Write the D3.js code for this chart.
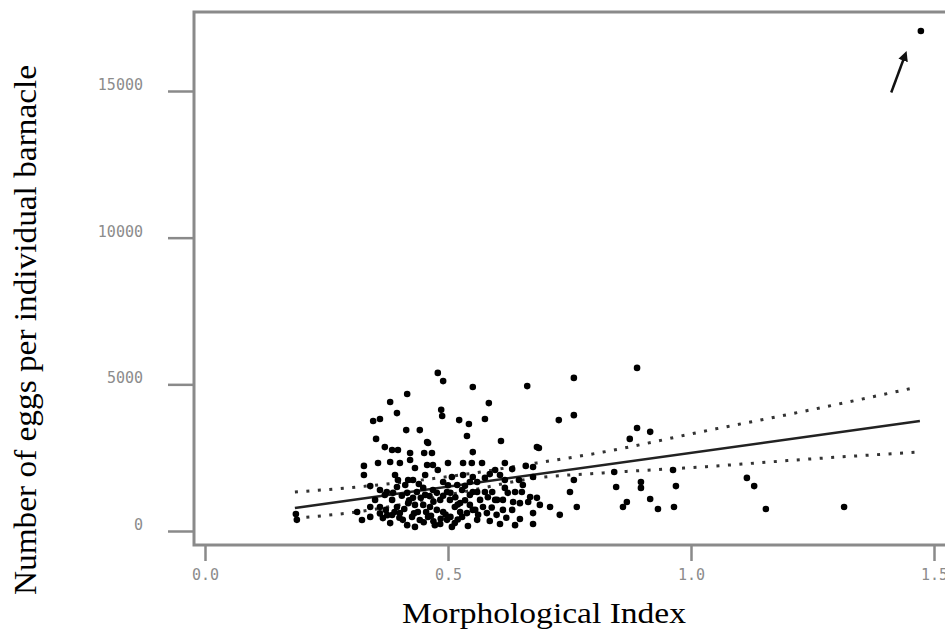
<!DOCTYPE html>
<html>
<head>
<meta charset="utf-8">
<script src="https://cdn.jsdelivr.net/npm/d3@7"></script>
<style>
  body { margin: 0; background: #fff; }
  svg { display: block; }
</style>
</head>
<body>
<div id="chart"></div>
<script>
const width = 945;
const height = 640;

// tick values
const xTicks = [0.0, 0.5, 1.0, 1.5];
const yTicks = [0, 5000, 10000, 15000];

// [morphological index, eggs per barnacle]
const eggPoints = [
  [1.473,17045],[0.889,5560],[0.479,5390],[0.490,5110],[0.759,5220],[0.551,4910],[0.663,4940],[0.416,4670],[0.381,4400],[0.584,4360],
  [0.395,4020],[0.486,4130],[0.488,3920],[0.759,3950],[0.346,3750],[0.360,3820],[0.523,3780],[0.543,3650],[0.576,3820],[0.728,3780],
  [0.414,3440],[0.442,3440],[0.539,3240],[0.352,3140],[0.457,3030],[0.609,3070],[0.687,2830],[0.889,3510],[0.916,3380],[0.874,3140],
  [0.370,2860],[0.385,2760],[0.397,2760],[0.422,2660],[0.422,2420],[0.451,2660],[0.467,2660],[0.551,2690],[0.459,3000],[0.683,2860],
  [0.327,2220],[0.327,1910],[0.340,1530],[0.381,2350],[0.401,2320],[0.500,2320],[0.531,2320],[0.549,2320],[0.570,2320],[0.617,2320],
  [0.660,2220],[0.675,2180],[0.457,2250],[0.469,2250],[0.391,1910],[0.418,1740],[0.428,1740],[0.453,1910],[0.508,1840],[0.531,1910],
  [0.551,1840],[0.360,1400],[0.374,1330],[0.387,1300],[0.385,1060],[0.416,1300],[0.428,1130],[0.449,1470],[0.453,1230],[0.469,1400],
  [0.477,1300],[0.498,1330],[0.529,1400],[0.551,1330],[0.313,650],[0.340,820],[0.340,480],[0.360,820],[0.366,440],[0.395,820],
  [0.401,610],[0.407,380],[0.418,950],[0.426,480],[0.438,650],[0.449,890],[0.459,480],[0.477,720],[0.490,650],[0.498,380],
  [0.514,820],[0.525,650],[0.529,480],[0.539,610],[0.551,720],[0.560,380],[0.416,200],[0.473,200],[0.187,580],[0.189,380],
  [0.597,2080],[0.586,1940],[0.607,1910],[0.576,1810],[0.617,1740],[0.632,2110],[0.675,1840],[0.646,1740],[0.654,1570],[0.545,1670],
  [0.560,1670],[0.560,1330],[0.576,1330],[0.591,1330],[0.597,1060],[0.617,1470],[0.623,1300],[0.638,1330],[0.652,1330],[0.669,1160],
  [0.683,1130],[0.689,890],[0.545,1230],[0.545,890],[0.566,1060],[0.572,820],[0.601,1060],[0.613,1060],[0.634,990],[0.648,950],
  [0.665,990],[0.556,720],[0.562,550],[0.580,610],[0.613,720],[0.632,720],[0.675,610],[0.675,240],[0.751,1330],[0.759,1740],
  [0.765,820],[0.710,820],[0.730,550],[0.842,2010],[0.846,1500],[0.860,820],[0.868,990],[0.897,1670],[0.897,1470],[0.916,1090],
  [0.932,750],[0.963,2080],[0.969,1530],[0.965,820],[1.115,1810],[1.130,1530],[1.154,750],[1.315,820],
  [0.432,140],[0.484,240],[0.514,270],[0.586,340],[0.607,240],[0.638,200],[0.648,410],[0.381,270],[0.508,140],[0.541,170],
  [0.442,375],[0.385,545],[0.463,820],[0.504,1060],[0.525,955],[0.484,1060],[0.432,890],[0.412,1570],[0.397,1740],[0.490,1670],
  [0.519,1570],[0.479,2080],[0.432,2150],[0.356,2320],[0.350,1060],[0.372,720],[0.323,375],
  [0.395,1500],[0.405,1200],[0.420,1050],[0.436,1330],[0.444,1130],[0.462,1190],[0.470,1000],[0.490,1200],[0.505,1300],[0.515,1150],
  [0.520,900],[0.535,1050],[0.455,650],[0.465,520],[0.485,420],[0.495,560],[0.505,480],[0.520,390],[0.430,600],[0.410,750],
  [0.390,650],[0.375,540],[0.370,1230],[0.440,1600],[0.500,1560],[0.535,1540],[0.582,1150],[0.590,800],[0.600,550],[0.620,450],
  [0.450,300],[0.470,330],[0.400,450],[0.360,600]
];

// regression line and its confidence band
const fitLine = [[0.185, 784], [1.471, 3750]];
const upperCI = [[0.185,1330],[0.313,1500],[0.525,1910],[0.683,2320],[0.819,2690],[1.019,3375],[1.245,4125],[1.467,4910]];
const lowerCI = [[0.185,440],[0.313,650],[0.525,1310],[0.683,1810],[0.819,1980],[1.019,2180],[1.245,2455],[1.467,2690]];

// arrow pointing at the outlier
const arrowLine = [[1.412, 14950], [1.440, 16200]];

const svg = d3.select("#chart")
  .append("svg")
  .attr("width", width)
  .attr("height", height);

const x = d3.scaleLinear().domain([0, 1.5]).range([205, 934]);
const y = d3.scaleLinear().domain([0, 15000]).range([531, 91]);

const frameLeft = 194, frameTop = 12, frameBottom = 545;

// frame (right side runs off the picture)
svg.append("rect")
  .attr("x", frameLeft)
  .attr("y", frameTop)
  .attr("width", 800)
  .attr("height", frameBottom - frameTop)
  .attr("fill", "none")
  .attr("stroke", "#8a8a8a")
  .attr("stroke-width", 3);

// y axis
const yAxis = svg.append("g")
  .attr("transform", "translate(" + frameLeft + ",0)")
  .call(d3.axisLeft(y).tickValues(yTicks).tickSize(26).tickPadding(25).tickFormat(d3.format("d")));

// x axis
const xAxis = svg.append("g")
  .attr("transform", "translate(0," + frameBottom + ")")
  .call(d3.axisBottom(x).tickValues(xTicks).tickSize(16).tickPadding(8).tickFormat(d3.format(".1f")));

[yAxis, xAxis].forEach(function(g) {
  g.select(".domain").remove();
  g.selectAll(".tick line").attr("stroke", "#8a8a8a").attr("stroke-width", 2.5);
  g.selectAll(".tick text")
    .attr("fill", "#8c8c8c")
    .style("font-family", "'DejaVu Sans Mono', monospace")
    .style("font-size", "15px");
});
yAxis.selectAll(".tick text").attr("dy", "-0.1em");

// confidence band (dotted)
const line = d3.line()
  .x(function(d) { return x(d[0]); })
  .y(function(d) { return y(d[1]); })
  .curve(d3.curveMonotoneX);

[upperCI, lowerCI].forEach(function(band) {
  svg.append("path")
    .datum(band)
    .attr("d", line)
    .attr("fill", "none")
    .attr("stroke", "#333")
    .attr("stroke-width", 3)
    .attr("stroke-dasharray", "3,8.5");
});

// fitted line
svg.append("path")
  .datum(fitLine)
  .attr("d", line)
  .attr("fill", "none")
  .attr("stroke", "#222")
  .attr("stroke-width", 2.5);

// points
svg.append("g")
  .selectAll("circle")
  .data(eggPoints)
  .enter()
  .append("circle")
  .attr("cx", function(d) { return x(d[0]); })
  .attr("cy", function(d) { return y(d[1]); })
  .attr("r", 3.3)
  .attr("fill", "#000");

// arrow
svg.append("defs").append("marker")
  .attr("id", "head")
  .attr("viewBox", "0 0 10 10")
  .attr("refX", 5).attr("refY", 5)
  .attr("markerWidth", 4).attr("markerHeight", 4)
  .attr("orient", "auto")
  .append("path")
  .attr("d", "M0,0L10,5L0,10z")
  .attr("fill", "#111");

svg.append("path")
  .datum(arrowLine)
  .attr("d", d3.line().x(function(d) { return x(d[0]); }).y(function(d) { return y(d[1]); }))
  .attr("stroke", "#111")
  .attr("stroke-width", 2.5)
  .attr("marker-end", "url(#head)");

// axis titles
svg.append("text")
  .attr("x", 544)
  .attr("y", 623)
  .attr("text-anchor", "middle")
  .attr("textLength", 284)
  .attr("lengthAdjust", "spacingAndGlyphs")
  .style("font-family", "'Liberation Serif', serif")
  .style("font-size", "29px")
  .attr("fill", "#000")
  .text("Morphological Index");

svg.append("text")
  .attr("transform", "translate(36,0) rotate(-90)")
  .attr("x", -330)
  .attr("y", 0)
  .attr("text-anchor", "middle")
  .attr("textLength", 530)
  .attr("lengthAdjust", "spacingAndGlyphs")
  .style("font-family", "'Liberation Serif', serif")
  .style("font-size", "31px")
  .attr("fill", "#000")
  .text("Number of eggs per individual barnacle");
</script>
</body>
</html>
